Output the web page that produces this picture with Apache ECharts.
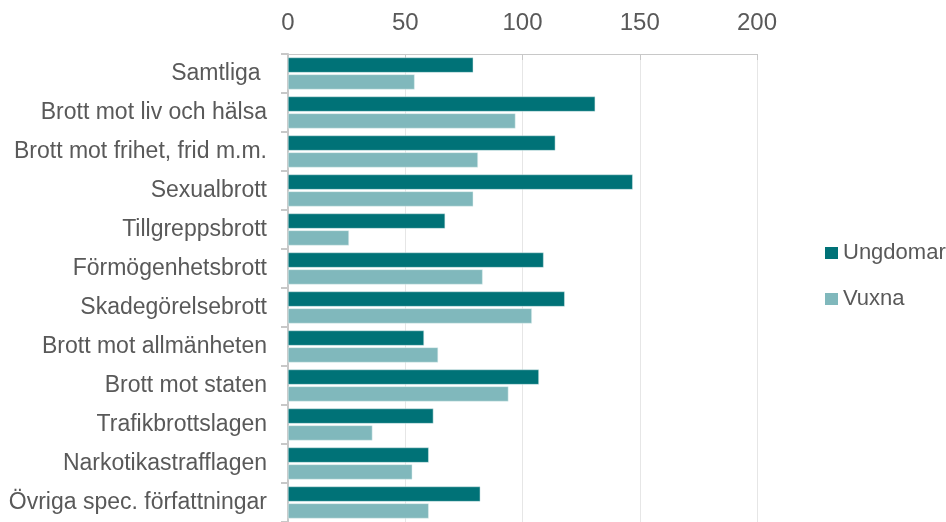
<!DOCTYPE html>
<html>
<head>
<meta charset="utf-8">
<script src="https://cdn.jsdelivr.net/npm/echarts@6/dist/echarts.min.js"></script>
<style>
  html, body { margin: 0; padding: 0; background: #fff; }
  #chart { width: 946px; height: 522px; }
</style>
</head>
<body>
<div id="chart"></div>
<script>
  var categories = ['Samtliga ', 'Brott mot liv och hälsa', 'Brott mot frihet, frid m.m.', 'Sexualbrott',
    'Tillgreppsbrott', 'Förmögenhetsbrott', 'Skadegörelsebrott', 'Brott mot allmänheten',
    'Brott mot staten', 'Trafikbrottslagen', 'Narkotikastrafflagen', 'Övriga spec. författningar'];
  var ungdomar = [79, 131, 114, 147, 67, 109, 118, 58, 107, 62, 60, 82];
  var vuxna = [54, 97, 81, 79, 26, 83, 104, 64, 94, 36, 53, 60];
  var xTicks = [0, 50, 100, 150, 200];

  var font = '"Liberation Sans", Arial, sans-serif';
  var textColor = '#595959';

  var myChart = echarts.init(document.getElementById('chart'));
  myChart.setOption({
    animation: false,
    textStyle: { fontFamily: font },
    grid: { left: 288, right: 189, top: 54, bottom: -4 },
    legend: {
      orient: 'vertical',
      left: 820,
      top: 237,
      itemWidth: 13,
      itemHeight: 12,
      itemGap: 24,
      icon: 'rect',
      itemStyle: { borderWidth: 0 },
      textStyle: { fontSize: 22, color: textColor, fontFamily: font },
      data: ['Ungdomar', 'Vuxna']
    },
    xAxis: {
      type: 'value',
      position: 'top',
      min: xTicks[0],
      max: xTicks[xTicks.length - 1],
      interval: 50,
      axisLine: { show: true, lineStyle: { color: '#c8c8c8', width: 1 } },
      axisTick: { show: true, inside: true, length: 6, lineStyle: { color: '#c8c8c8' } },
      axisLabel: { fontSize: 24, color: textColor, margin: 19, fontFamily: font },
      splitLine: { show: true, lineStyle: { color: '#e6e6e6', width: 1 } }
    },
    yAxis: {
      type: 'category',
      inverse: true,
      data: categories,
      axisLine: { show: true, lineStyle: { color: '#c8c8c8', width: 2 } },
      axisTick: { show: true, length: 7, lineStyle: { color: '#c8c8c8', width: 2 } },
      axisLabel: { fontSize: 23, color: textColor, margin: 21, fontFamily: font }
    },
    series: [
      {
        name: 'Ungdomar',
        type: 'bar',
        data: ungdomar,
        barCategoryGap: '18%',
        barGap: '12%',
        itemStyle: { color: '#007277', borderColor: '#d6eaea', borderWidth: 0.5 }
      },
      {
        name: 'Vuxna',
        type: 'bar',
        data: vuxna,
        barCategoryGap: '18%',
        barGap: '12%',
        itemStyle: { color: '#80b8bc', borderColor: '#e2f0f0', borderWidth: 0.5 }
      }
    ]
  });
</script>
</body>
</html>
